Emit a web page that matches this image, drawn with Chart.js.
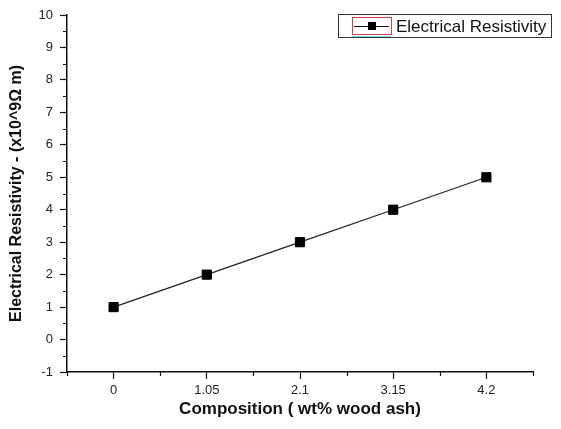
<!DOCTYPE html>
<html>
<head>
<meta charset="utf-8">
<script src="https://cdn.jsdelivr.net/npm/chart.js@4/dist/chart.umd.min.js"></script>
<style>
  html, body { margin: 0; padding: 0; background: #fff; }
  #wrap { width: 561px; height: 429px; }
</style>
</head>
<body>
<div id="wrap"><canvas id="chart" width="561" height="429"></canvas></div>
<script>
  // composition (wt% wood ash) and resistivity (x10^9 ohm m)
  const composition = [0, 1.05, 2.1, 3.15, 4.2];
  const resistivity = [1, 2, 3, 4, 5];

  const xTicks = [0, 1.05, 2.1, 3.15, 4.2];
  const xTickLabels = ['0', '1.05', '2.1', '3.15', '4.2'];
  const xMinorTicks = [-0.525, 0.525, 1.575, 2.625, 3.675, 4.725];
  const yTicks = [-1, 0, 1, 2, 3, 4, 5, 6, 7, 8, 9, 10];
  const yMinorTicks = [-0.5, 0.5, 1.5, 2.5, 3.5, 4.5, 5.5, 6.5, 7.5, 8.5, 9.5];

  const seriesName = 'Electrical Resistivity';

  const minorTicks = {
    id: 'minorTicks',
    afterDraw(chart) {
      const ctx = chart.ctx;
      const x = chart.scales.x, y = chart.scales.y;
      ctx.save();
      ctx.strokeStyle = '#111';
      ctx.lineWidth = 1.2;
      ctx.beginPath();
      xMinorTicks.forEach(v => {
        const px = Math.round(x.getPixelForValue(v)) + 0.5;
        ctx.moveTo(px, x.top);
        ctx.lineTo(px, x.top + 4);
      });
      yMinorTicks.forEach(v => {
        const py = Math.round(y.getPixelForValue(v)) + 0.5;
        ctx.moveTo(y.right, py);
        ctx.lineTo(y.right - 4, py);
      });
      ctx.stroke();
      ctx.restore();
    }
  };

  const legendBox = {
    id: 'legendBox',
    afterDraw(chart) {
      const ctx = chart.ctx;
      const left = 338, top = 14, right = 551, bottom = 37;
      ctx.save();
      ctx.fillStyle = '#fff';
      ctx.fillRect(left, top, right - left, bottom - top);
      ctx.strokeStyle = '#333';
      ctx.lineWidth = 1;
      ctx.strokeRect(left + 0.5, top + 0.5, right - left, bottom - top);
      // sample
      ctx.strokeStyle = '#d04040';
      ctx.strokeRect(352.5, 17.5, 39, 17);
      ctx.strokeStyle = '#7fe0e8';
      ctx.beginPath();
      ctx.moveTo(352, 36.5);
      ctx.lineTo(391, 36.5);
      ctx.stroke();
      ctx.strokeStyle = '#111';
      ctx.beginPath();
      ctx.moveTo(354, 26.5);
      ctx.lineTo(389, 26.5);
      ctx.stroke();
      ctx.fillStyle = '#000';
      ctx.fillRect(368, 22, 8, 8);
      ctx.font = '17px "Liberation Sans", Arial, sans-serif';
      ctx.textBaseline = 'middle';
      ctx.fillStyle = '#111';
      ctx.fillText(chart.data.datasets[0].label, 396, 27);
      ctx.restore();
    }
  };

  const tickFont = { family: '"Liberation Sans", Arial, sans-serif', size: 13 };

  new Chart(document.getElementById('chart'), {
    type: 'line',
    data: {
      datasets: [{
        label: seriesName,
        data: composition.map((c, i) => ({ x: c, y: resistivity[i] })),
        borderColor: '#222',
        borderWidth: 1.2,
        pointStyle: 'rect',
        pointRadius: 6.5,
        pointBackgroundColor: '#000',
        pointBorderColor: '#000',
        pointBorderWidth: 1,
        tension: 0
      }]
    },
    options: {
      responsive: false,
      animation: false,
      layout: { padding: { top: 15, right: 28, left: 0, bottom: 0 } },
      plugins: { legend: { display: false }, tooltip: { enabled: false } },
      scales: {
        x: {
          type: 'linear',
          min: -0.525,
          max: 4.725,
          afterBuildTicks: s => { s.ticks = xTicks.map(v => ({ value: v })); },
          afterFit: s => { s.height = 57; },
          border: { display: true, color: '#111', width: 1.5 },
          grid: { drawOnChartArea: false, drawTicks: true, tickLength: 7, tickColor: '#111', tickWidth: 1.2 },
          ticks: {
            color: '#222',
            font: tickFont,
            padding: 4,
            maxRotation: 0,
            callback: (v) => {
              const i = xTicks.findIndex(t => Math.abs(t - v) < 1e-6);
              return i >= 0 ? xTickLabels[i] : '';
            }
          },
          title: {
            display: true,
            text: 'Composition ( wt% wood ash)',
            color: '#111',
            font: { family: '"Liberation Sans", Arial, sans-serif', size: 17, weight: 'bold' },
            padding: { top: 0, bottom: 9 }
          }
        },
        y: {
          type: 'linear',
          min: -1,
          max: 10,
          afterBuildTicks: s => { s.ticks = yTicks.map(v => ({ value: v })); },
          afterFit: s => { s.width = 67; },
          border: { display: true, color: '#111', width: 1.5 },
          grid: { drawOnChartArea: false, drawTicks: true, tickLength: 7, tickColor: '#111', tickWidth: 1.2 },
          ticks: { color: '#222', font: tickFont, padding: 7 },
          title: {
            display: true,
            text: 'Electrical Resistivity - (x10^9\u03A9 m)',
            color: '#111',
            font: { family: '"Liberation Sans", Arial, sans-serif', size: 16, weight: 'bold' },
            padding: { top: 7, bottom: 0 }
          }
        }
      }
    },
    plugins: [minorTicks, legendBox]
  });
</script>
</body>
</html>
